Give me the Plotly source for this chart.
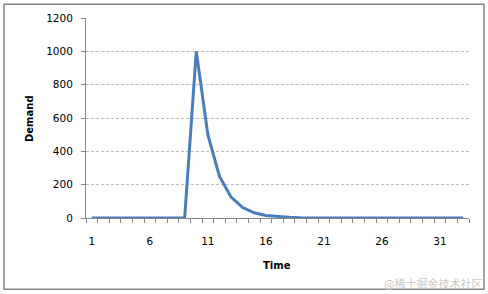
import plotly.graph_objects as go

time = list(range(1, 34))
demand = [0, 0, 0, 0, 0, 0, 0, 0, 0,
          1000, 500, 250, 125, 62.5, 31.3, 15.6, 7.8, 3.9, 2.0, 1.0,
          0.5, 0.2, 0.1, 0.1, 0, 0, 0, 0, 0, 0, 0, 0, 0]
x_tick_vals = [1, 6, 11, 16, 21, 26, 31]
y_tick_vals = [0, 200, 400, 600, 800, 1000, 1200]

L, R, T, B = 86, 469, 16, 218
W, H = 488, 294

def px(x):
    return (x - L) / (R - L)

def py(y):
    return (B - y) / (B - T)

fig = go.Figure()
fig.add_trace(go.Scatter(x=time, y=demand, mode="lines",
                         line=dict(color="#4A7EBB", width=3),
                         cliponaxis=False, hoverinfo="skip"))

font_family = "DejaVu Sans"
fig.update_layout(
    width=W, height=H,
    margin=dict(l=L, r=W - R, t=T, b=H - B),
    paper_bgcolor="white", plot_bgcolor="white",
    showlegend=False,
    font=dict(family=font_family, size=10, color="black"),
    xaxis=dict(range=[0.5, 33.5], tickmode="array", tickvals=x_tick_vals,
               ticks="", showgrid=False, showline=True, linecolor="#888888",
               linewidth=1, zeroline=False, ticklabelstandoff=13,
               tickfont=dict(size=10.5),
               minor=dict(tick0=0.5, dtick=1, ticks="outside", ticklen=4,
                          tickcolor="#888888", tickwidth=1, showgrid=False)),
    yaxis=dict(range=[0, 1200], tickmode="array", tickvals=y_tick_vals,
               ticks="outside", ticklen=4, tickcolor="#888888",
               showline=True, linecolor="#888888", linewidth=1,
               showgrid=True, gridcolor="#BBBBBB", griddash="3px,2px", gridwidth=1,
               zeroline=False, ticklabelstandoff=6, tickfont=dict(size=10.5)),
    annotations=[
        dict(text="<b>Demand</b>", x=px(30), y=py(118), xref="paper", yref="paper",
             xanchor="center", yanchor="middle",
             showarrow=False, textangle=-90, font=dict(size=10)),
        dict(text="<b>Time</b>", x=px(277), y=py(266), xref="paper", yref="paper",
             xanchor="center", yanchor="middle",
             showarrow=False, font=dict(size=10)),
        dict(text="@稀土掘金技术社区", x=px(484), y=py(284), xref="paper", yref="paper",
             xanchor="right", yanchor="middle", showarrow=False,
             font=dict(size=11, color="#C8C8C8", family="Noto Sans CJK SC")),
    ],
    shapes=[dict(type="rect", xref="paper", yref="paper",
                 x0=px(4), x1=px(484), y0=py(290), y1=py(2),
                 line=dict(color="#888888", width=1.5), layer="below")],
)

fig.write_html("out.html")
